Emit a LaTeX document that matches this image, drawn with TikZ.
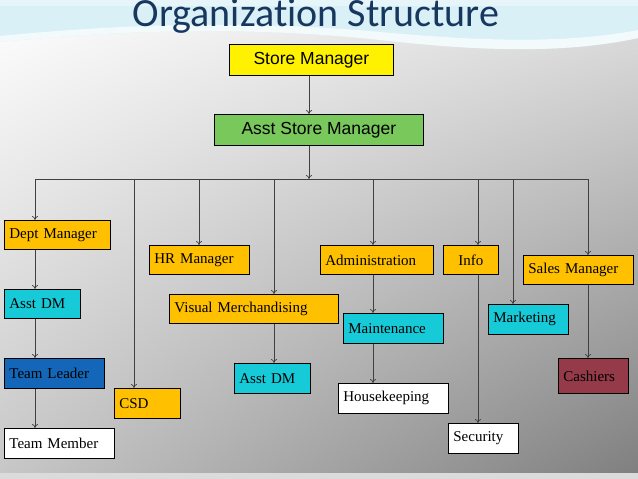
\documentclass[tikz,border=0pt]{standalone}
\usepackage{fontspec}
\setmainfont{Liberation Serif}
\newfontfamily\arialf{Liberation Sans}
\newfontfamily\titlef[Ligatures=NoCommon]{Carlito}
\usetikzlibrary{arrows.meta,shadings}
\definecolor{orng}{HTML}{FFC000}
\definecolor{cyn}{HTML}{17CAD8}
\definecolor{grn}{HTML}{78C85C}
\definecolor{tlblue}{HTML}{1467B8}
\definecolor{cash}{HTML}{943A48}
\definecolor{navy}{HTML}{17375E}
\definecolor{wave}{HTML}{BEE6F0}
\tikzset{
  box/.style={draw=black, line width=0.8pt, font=\fontsize{15}{17}\selectfont, inner xsep=5pt, inner ysep=0pt, anchor=north west, align=left},
  abox/.style={box, font=\arialf\fontsize{17.5}{19}\selectfont, align=center},
  conn/.style={draw=black!75, line width=0.7pt},
  arr/.style={conn, -{To[length=4pt,width=6pt]}}
}
\newcommand{\bx}[7]{% name, left, top, right, bottom, fill, text
  \node[box, fill=#6, minimum width={#4pt-#2pt}, minimum height={#5pt-#3pt}, text width={#4pt-#2pt-10pt}] (#1) at (#2,#3) {#7};}
\begin{document}
\begin{tikzpicture}[x=1pt,y=-1pt]
\useasboundingbox (0,0) rectangle (638,479);
\shade[upper left=white, upper right=black!12, lower left=black!22, lower right=black!50] (0,0) rectangle (638,473);
\fill[black!14] (0,473) rectangle (638,479);
\fill[white!40!wave] (0,0) -- (638,0) -- (638,38) .. controls (560,55) and (470,50) .. (380,40) .. controls (250,26) and (120,30) .. (0,42) -- cycle;
\fill[white!80!wave] (0,42) .. controls (120,30) and (250,26) .. (380,40) .. controls (470,50) and (560,55) .. (638,38) -- (638,30) .. controls (560,45) and (470,40) .. (380,32) .. controls (250,20) and (120,24) .. (0,36) -- cycle;
\fill[white!60!wave] (0,0) rectangle (638,6);
\node[font=\titlef\fontsize{40}{42}\selectfont, text=navy, anchor=base] (title) at (316,27) {Organization Structure};
% top boxes
\node[abox, fill=yellow, minimum width=164pt, minimum height=31pt] (sm) at (229,44) {Store Manager};
\node[abox, fill=grn, minimum width=209pt, minimum height=31pt] (asm) at (214,114) {Asst Store Manager};
% boxes
\bx{dm}{4}{220}{110}{249}{orng}{Dept Manager}
\bx{adm1}{4}{289}{80}{318}{cyn}{Asst DM}
\bx{tl}{4}{358}{104}{388}{tlblue}{Team Leader}
\bx{tm}{4}{428}{114}{458}{white}{Team Member}
\bx{csd}{114}{388}{180}{418}{orng}{CSD}
\bx{hr}{149}{245}{249}{274}{orng}{HR Manager}
\bx{vm}{169}{294}{338}{323}{orng}{Visual Merchandising}
\bx{adm2}{234}{363}{310}{393}{cyn}{Asst DM}
\bx{adm}{320}{245}{433}{274}{orng}{Administration}
\bx{mnt}{343}{313}{443}{343}{cyn}{Maintenance}
\bx{hk}{338}{383}{448}{413}{white}{Housekeeping}
\bx{info}{443}{245}{498}{274}{orng}{\hfil Info}
\bx{sec}{448}{423}{518}{453}{white}{Security}
\bx{mkt}{488}{304}{568}{334}{cyn}{Marketing}
\bx{sal}{523}{255}{633}{284}{orng}{Sales Manager}
\bx{cas}{558}{358}{628}{393}{cash}{Cashiers}
% bus
\coordinate (bl) at (35,179);
\coordinate (br) at (588,179);
\coordinate (bm) at (309,179);
\draw[arr] (sm.south -| 309,0) -- (asm.north -| 309,0);
\draw[arr] (asm.south -| bm) -- (bm);
\draw[conn] (bl) -- (br);
\draw[arr] (bl) -- (bl |- dm.north);
\draw[arr] (35,0 |- dm.south) -- (35,0 |- adm1.north);
\draw[arr] (35,0 |- adm1.south) -- (35,0 |- tl.north);
\draw[arr] (35,0 |- tl.south) -- (35,0 |- tm.north);
\draw[arr] (134,179) -- (134,0 |- csd.north);
\draw[arr] (199,179) -- (199,0 |- hr.north);
\draw[arr] (274,179) -- (274,0 |- vm.north);
\draw[arr] (274,0 |- vm.south) -- (274,0 |- adm2.north);
\draw[arr] (373,179) -- (373,0 |- adm.north);
\draw[arr] (373,0 |- adm.south) -- (373,0 |- mnt.north);
\draw[arr] (373,0 |- mnt.south) -- (373,0 |- hk.north);
\draw[arr] (478,179) -- (478,0 |- info.north);
\draw[arr] (478,0 |- info.south) -- (478,0 |- sec.north);
\draw[arr] (513,179) -- (513,0 |- mkt.north);
\draw[arr] (br) -- (588,0 |- sal.north);
\draw[arr] (588,0 |- sal.south) -- (588,0 |- cas.north);
\end{tikzpicture}
\end{document}
